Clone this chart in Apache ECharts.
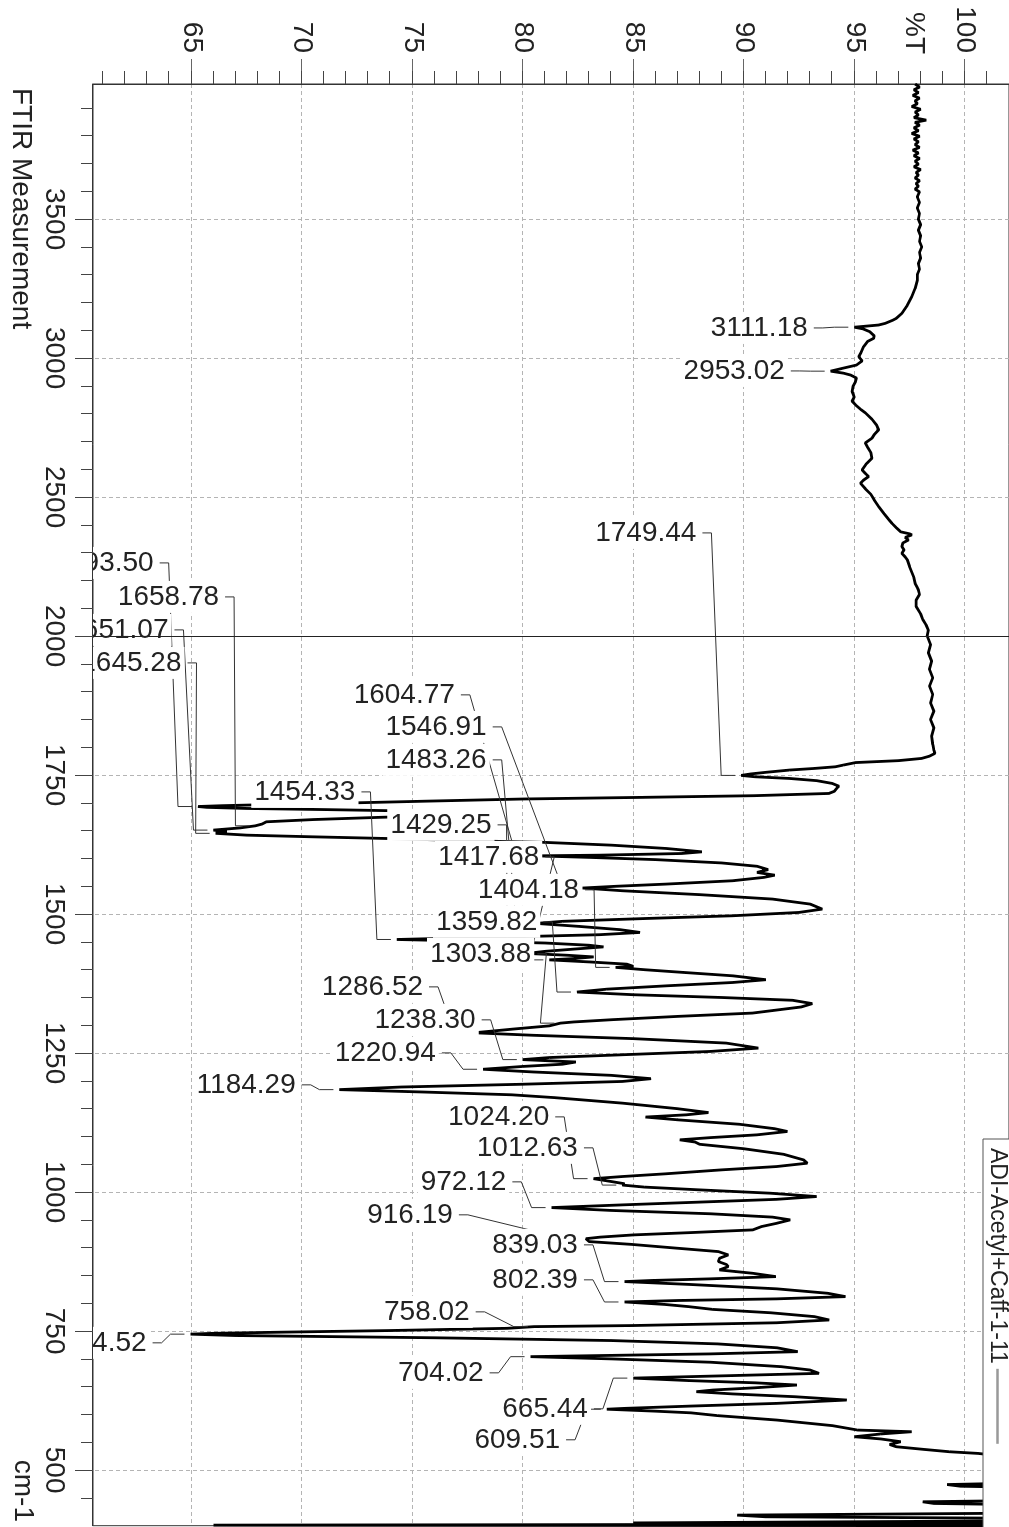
<!DOCTYPE html>
<html>
<head>
<meta charset="utf-8">
<title>FTIR Measurement</title>
<script src="https://cdn.jsdelivr.net/npm/echarts@6/dist/echarts.min.js"></script>
<style>
  html, body { margin: 0; padding: 0; background: #fff; width: 1009px; height: 1527px; overflow: hidden; }
  /* the plot is laid out landscape and turned a quarter turn clockwise onto the page */
  #chart { position: absolute; left: 0; top: 0; width: 1527px; height: 1009px;
           transform-origin: 0 0; transform: translate(1009px, 0) rotate(90deg); }
</style>
</head>
<body>
<div id="chart"></div>
<script>
// ---- spectrum: [wavenumber cm-1, %T] ----
const spectrumHigh = [
  [3986,97.75],[3975,97.95],[3965,97.7],[3955,97.9],[3945,97.65],[3935,97.95],[3925,97.75],[3915,97.85],
  [3905,97.6],[3895,98.0],[3885,97.75],[3875,97.9],[3865,97.7],[3856,98.25],[3848,97.75],[3838,97.95],
  [3828,97.7],[3818,97.9],[3808,97.6],[3798,97.95],[3788,97.7],[3778,97.9],[3768,97.75],[3758,97.95],
  [3748,97.65],[3738,97.9],[3728,97.7],[3718,97.95],[3708,97.75],[3698,97.9],[3688,97.7],[3678,98.0],
  [3668,97.8],[3658,97.9],[3648,97.75],[3638,97.95],[3628,97.8],[3618,97.9],[3608,97.75],[3598,97.95],
  [3580,97.85],[3560,97.95],[3540,97.85],[3520,97.95],[3500,97.9],[3480,98.0],[3460,97.9],[3440,98.0],
  [3420,97.95],[3400,98.05],[3380,97.95],[3360,98.0],[3340,97.9],[3320,97.95],[3300,97.85],[3280,97.85],
  [3250,97.75],[3221,97.6],[3190,97.4],[3161,97.15],[3143,96.9],[3137,96.76],[3125,96.4],[3119,96.1],
  [3114,95.4],[3111.18,95.0],[3105,95.4],[3095,95.7],[3080,95.9],[3071,95.87],[3060,95.6],[3041,95.42],
  [3020,95.3],[3005,95.2],[2990,95.35],[2975,95.1],[2962,94.4],[2953.02,93.93],[2946,94.5],[2939,94.83],
  [2928,95.1],[2915,95.05],[2900,94.95],[2880,94.9],[2860,95.0],[2845,94.9],[2832,95.05],[2815,95.3],
  [2803,95.5],[2780,95.8],[2760,96.0],[2742,96.1],[2725,95.9],[2712,95.8],[2695,95.5],[2680,95.6],
  [2660,95.75],[2640,95.8],[2620,95.55],[2598,95.35],[2585,95.5],[2574,95.65],[2560,95.4],[2550,95.28],
  [2530,95.5],[2510,95.75],[2490,95.9],[2466,96.1],[2440,96.35],[2420,96.55],[2406,96.7],[2390,96.9],
  [2375,97.1],[2368,97.5],[2364,97.6],[2355,97.3],[2346,97.45],[2335,97.2],[2322,97.15],[2310,97.25],
  [2298,97.15],[2285,97.3],[2274,97.4],[2250,97.5],[2230,97.6],[2210,97.7],[2190,97.75],[2175,97.85],
  [2166,97.9],[2150,97.95],[2130,97.8],[2106,97.8],[2080,98.0],[2060,98.1],[2040,98.25],[2022,98.35]
];
const spectrumMid = [
  [2000,98.3],[1985,98.45],[1970,98.35],[1955,98.5],[1940,98.4],[1925,98.55],[1910,98.4],[1895,98.55],
  [1880,98.45],[1865,98.6],[1850,98.45],[1835,98.6],[1820,98.5],[1805,98.55],[1795,98.6],[1789,98.65],
  [1784,98.4],[1780,98.05],[1776,97.0],[1772.5,95.05],[1768,94.5],[1765,94.15],[1762,93.2],[1759,92.05],
  [1755,91.0],[1752,90.3],[1749.44,89.88],[1747,90.5],[1744,92.05],[1740,93.3],[1735,94.0],[1730,94.3],
  [1726,94.2],[1721,94.1],[1717,93.85],[1713,90.5],[1710,85.5],[1707,80.0],[1703,75.5],[1700,72.3],
  [1697,68.5],[1695,66.4],[1693.5,65.3],[1692,65.7],[1690,67.5],[1688,71.0],[1686,74.0],[1684,76.5],
  [1681,77.8],[1678,77.0],[1674,73.5],[1670,70.5],[1666,68.4],[1662,68.2],[1658.78,67.9],[1655,67.2],
  [1651.07,66.0],[1648,66.6],[1645.28,66.1],[1642,67.5],[1639,70.5],[1636,73.8],[1632,77.5],[1629,81.0],
  [1624,84.0],[1618,86.5],[1612,88.1],[1609,87.2],[1606,83.5],[1604.77,80.6],[1602,83.0],[1598,86.0],
  [1592,89.0],[1586,90.6],[1580,91.1],[1575,90.6],[1570,91.4],[1566,90.9],[1560,89.5],[1554,86.5],
  [1550,84.2],[1546.91,82.7],[1542,84.5],[1535,88.0],[1527,91.3],[1518,93.0],[1509,93.55],[1503,92.5],
  [1497,89.5],[1492,85.5],[1487,81.8],[1483.26,80.6],[1478,82.5],[1472,84.4],[1467,85.3],[1463,83.5],
  [1459,79.5],[1456,76.0],[1454.33,74.3],[1452,77.0],[1448,81.0],[1444,83.0],[1441,83.65],[1437,82.3],
  [1433,81.0],[1429.25,80.2],[1426,82.0],[1423,83.2],[1420,82.3],[1417.68,81.2],[1414,83.0],[1410,84.7],
  [1406,85.0],[1404.18,84.2],[1400,85.5],[1395,87.3],[1389,89.5],[1382,91.0],[1377,89.5],[1371,86.5],
  [1365,83.8],[1359.82,82.45],[1355,85.0],[1350,89.0],[1345,92.2],[1339,93.1],[1333,92.6],[1322,90.4],
  [1316,87.0],[1310,84.0],[1306,82.3],[1303.88,81.7],[1299,81.2],[1293,79.5],[1286.52,77.8],[1282,80.5],
  [1276,85.0],[1268,89.2],[1259,90.66],[1253,88.5],[1247,84.5],[1242,81.2],[1238.3,80.0],[1234,82.4],
  [1230,81.8],[1226,80.0],[1220.94,78.2],[1216,80.5],[1210,84.0],[1204,85.8]
];
const spectrumLow = [
  [1199,84.5],[1194,80.0],[1189,74.5],[1184.29,71.7],[1180,75.5],[1175,79.5],[1170,81.4],[1160,84.5],
  [1150,87.0],[1143,88.4],[1139,87.4],[1135,85.55],[1130,87.0],[1122,89.8],[1114,91.4],[1109,91.97],
  [1103,90.6],[1098,88.5],[1094,87.1],[1090,87.8],[1086,88.0],[1078,90.0],[1068,91.8],[1058,92.7],
  [1052,92.87],[1046,91.5],[1040,89.0],[1033,86.5],[1028,84.5],[1024.2,83.2],[1019,84.0],[1015,84.6],
  [1012.63,84.5],[1009,85.5],[1004,88.0],[998,91.2],[992,93.3],[987,91.5],[982,88.0],[977,84.5],
  [972.12,81.3],[967,84.0],[961,88.5],[955,91.3],[950,92.1],[944,91.5],[938,90.8],[932,90.4],
  [927,87.5],[923,85.0],[919,83.5],[916.19,82.85],[911,83.0],[906,84.9],[899,87.0],[893,88.85],
  [887,89.3],[881,88.9],[875,88.85],[870,89.2],[866,89.3],[860,88.9],[854,90.4],[848,91.45],
  [844,88.5],[841,85.8],[839.03,84.6],[834,87.5],[826,91.5],[818,93.8],[812,94.6],[808,91.5],
  [805,87.0],[802.39,84.6],[798,86.4],[794,87.5],[789,88.6],[783,91.2],[776,93.2],[770,93.86],
  [765,91.5],[760,85.0],[758.02,80.5],[755,79.3],[751,74.0],[748,69.0],[746,66.0],[744.52,64.96],
  [742,67.0],[738,76.0],[733,84.0],[727,88.8],[720,91.5],[713,92.44],[709,88.5],[706,83.5],
  [704.02,80.35],[700,84.0],[694,88.5],[686,91.7],[680,93.0],[674,93.4],[670,89.5],[667,86.5],
  [665.44,85.0],[661,87.5],[657,90.5],[653,92.4],[648,90.5],[644,88.6],[641,87.85],[637,89.5],
  [632,92.3],[626,94.66],[620,91.5],[615,87.5],[611,84.6],[609.51,83.8],[606,86.0],[603,87.6],
  [598,88.8],[590,91.5],[580,94.0],[572,95.15],[569,97.6],[565,96.2],[560,95.0],[556,96.2],
  [551,97.1],[546,96.6],[542,96.9],[537,98.2],[533,99.3],[530,100.6],[526,101.5],[520,103.0],
  [500,104.0],[478,104.0],[474,99.2],[471,99.8],[468,104.0],[446,104.0],[443,98.1],[440,98.6],
  [437,104.0],[423,104.0],[419,89.7],[416,91.0],[413,104.0],[409,104.0],[405,85.0],[403,104.0],
  [401,66.0],[400,104.0]
];

// ---- picked peaks and where their labels sit: [wavenumber, %T] of the label's end ----
const peakWaves = [3111.18, 2953.02, 1749.44, 1693.50, 1658.78, 1651.07, 1645.28, 1604.77, 1546.91,
  1483.26, 1454.33, 1429.25, 1417.68, 1404.18, 1359.82, 1303.88, 1286.52, 1238.30, 1220.94, 1184.29,
  1024.20, 1012.63, 972.12, 916.19, 839.03, 802.39, 758.02, 744.52, 704.02, 665.44, 609.51];
const labelAnchors = [
  [3108.5,93.03],[2953.8,91.99],[2371.2,87.99],[2263.3,63.43],[2141,66.39],[2022.3,64.1],[1951.8,64.69],
  [1894.3,77.06],[1836.7,78.5],[1777.4,78.5],[1719.8,72.56],[1660.5,78.72],[1602.9,80.88],[1543.6,82.68],
  [1486,80.79],[1428.5,80.52],[1369.1,75.62],[1309.8,78.0],[1250.4,76.2],[1192.9,69.86],[1135.3,81.33],
  [1079.6,82.63],[1018.4,79.39],[959.1,76.97],[905.1,82.63],[842.2,82.63],[784.6,77.73],[728.9,63.11],
  [674.9,78.36],[610.2,83.08],[554.5,81.82]
];

// ---- axes ----
const waveTicks = [3500, 3000, 2500, 2000, 1750, 1500, 1250, 1000, 750, 500];
const transTicks = [65, 70, 75, 80, 85, 90, 95, 100];
const waveMin = 400, waveMax = 3986;
const transMin = 60.55, transMax = 102;
const seriesName = 'ADI-Acetyl+Caff-1-11';

// below 2000 cm-1 the wavenumber scale is drawn twice as wide
function toAxis(w) { return w >= 2000 ? w : 2 * w - 2000; }
function fromAxis(u) { return u >= 2000 ? u : (u + 2000) / 2; }

const spectrum = spectrumHigh.concat(spectrumMid, spectrumLow);
function transAt(w) {
  const hit = spectrum.find(p => Math.abs(p[0] - w) < 1e-6);
  return hit ? hit[1] : null;
}

const minorWave = [];
for (let w = 3900; w > 2000; w -= 100) minorWave.push(toAxis(w));
for (let w = 1950; w > waveMin; w -= 50) minorWave.push(toAxis(w));
const minorTrans = [];
for (let t = 61; t <= 101; t++) minorTrans.push(t);

const FONT = '"Liberation Sans", Arial, Helvetica, sans-serif';
const INK = '#222';
const gridBox = { left: 84, right: 1.3, top: -5.5, bottom: 93 };

function renderPeakLabel(params, api) {
  const i = params.dataIndex;
  const peak = api.coord([api.value(0), api.value(1)]);
  const lab = api.coord([api.value(2), api.value(3)]);
  // leader: small hook off the label end, run to the peak, short stub in front of it
  const pts = [
    [lab[0], lab[1] - 3],
    [lab[0], lab[1] - 12],
    [peak[0], peak[1] + 20],
    [peak[0], peak[1] + 6]
  ];
  return {
    type: 'group',
    children: [
      { type: 'polyline', z2: 1, shape: { points: pts },
        style: { stroke: '#333', lineWidth: 1, fill: null } },
      { type: 'text', z2: 10, x: lab[0], y: lab[1], rotation: Math.PI / 2,
        style: { text: peakWaves[i].toFixed(2), fill: INK,
                 font: '28px ' + FONT, align: 'right', verticalAlign: 'middle',
                 textAlign: 'right', textVerticalAlign: 'middle',
                 backgroundColor: '#fff', padding: [2, 3, 2, 3] } }
    ]
  };
}

const chart = echarts.init(document.getElementById('chart'), null, { renderer: 'canvas' });
chart.setOption({
  animation: false,
  backgroundColor: '#fff',
  title: [
    { text: 'FTIR Measurement', left: 88, top: 974, padding: 0,
      textStyle: { fontFamily: FONT, fontSize: 28, fontWeight: 'normal', color: INK } },
    { text: 'cm-1', right: 5, top: 972, padding: 0,
      textStyle: { fontFamily: FONT, fontSize: 28, fontWeight: 'normal', color: INK } },
    { text: '%T', left: 12, top: 81, padding: 0,
      textStyle: { fontFamily: FONT, fontSize: 28, fontWeight: 'normal', color: INK } }
  ],
  legend: {
    data: [seriesName], left: 1139, top: -10, orient: 'horizontal', align: 'right',
    padding: [10, 400, 3, 9], backgroundColor: '#fff', borderColor: '#555', borderWidth: 1,
    icon: 'rect', itemWidth: 75, itemHeight: 2.5, itemStyle: { color: '#999', borderWidth: 0 },
    textStyle: { fontFamily: FONT, fontSize: 23, color: INK }, selectedMode: false
  },
  grid: [
    Object.assign({ show: true, borderColor: '#333', borderWidth: 1, backgroundColor: 'transparent' }, gridBox),
    Object.assign({ show: false }, gridBox)
  ],
  xAxis: [
    { type: 'value', gridIndex: 0, min: toAxis(waveMin), max: waveMax, inverse: true,
      minInterval: 500, maxInterval: 500, position: 'bottom',
      axisLine: { show: true, onZero: false, lineStyle: { color: '#333', width: 1 } },
      axisTick: { show: true, inside: false, length: 18, customValues: waveTicks.map(toAxis),
                  lineStyle: { color: '#444', width: 1 } },
      axisLabel: { show: true, customValues: waveTicks.map(toAxis), margin: 25,
                   formatter: u => String(Math.round(fromAxis(u))),
                   fontFamily: FONT, fontSize: 28, color: INK },
      splitLine: { show: true, lineStyle: { color: '#b4b4b4', width: 1, type: [4, 3] } } },
    { type: 'value', gridIndex: 1, min: toAxis(waveMin), max: waveMax, inverse: true,
      interval: 100, position: 'bottom',
      axisLine: { show: false, onZero: false }, axisLabel: { show: false }, splitLine: { show: false },
      axisTick: { show: true, inside: false, length: 12, customValues: minorWave,
                  lineStyle: { color: '#444', width: 1 } } }
  ],
  yAxis: [
    { type: 'value', gridIndex: 0, min: transMin, max: transMax,
      minInterval: 5, maxInterval: 5, position: 'left',
      axisLine: { show: true, onZero: false, lineStyle: { color: '#333', width: 1 } },
      axisTick: { show: true, inside: false, length: 25, customValues: transTicks,
                  lineStyle: { color: '#666', width: 1 } },
      axisLabel: { show: true, customValues: transTicks, margin: 31,
                   fontFamily: FONT, fontSize: 28, color: INK },
      splitLine: { show: true, lineStyle: { color: '#b4b4b4', width: 1, type: [4, 3] } } },
    { type: 'value', gridIndex: 1, min: transMin, max: transMax, position: 'left',
      axisLine: { show: false, onZero: false }, axisLabel: { show: false }, splitLine: { show: false },
      axisTick: { show: true, inside: false, length: 13, customValues: minorTrans,
                  lineStyle: { color: '#444', width: 1 } } }
  ],
  series: [
    { name: seriesName, type: 'line', xAxisIndex: 0, yAxisIndex: 0,
      data: spectrum.map(p => [toAxis(p[0]), p[1]]),
      showSymbol: false, symbol: 'none', clip: true, z: 2,
      lineStyle: { color: '#000', width: 2.8 }, itemStyle: { color: '#000' },
      markLine: { silent: true, symbol: 'none', label: { show: false },
                  lineStyle: { color: '#222', width: 1, type: 'solid' },
                  data: [{ xAxis: toAxis(2000) }] } },
    { type: 'custom', xAxisIndex: 0, yAxisIndex: 0, clip: true, z: 3, silent: true,
      encode: { x: 0, y: 1 },
      data: peakWaves.map((w, i) => [toAxis(w), transAt(w), toAxis(labelAnchors[i][0]), labelAnchors[i][1]]),
      renderItem: renderPeakLabel }
  ]
});
</script>
</body>
</html>
